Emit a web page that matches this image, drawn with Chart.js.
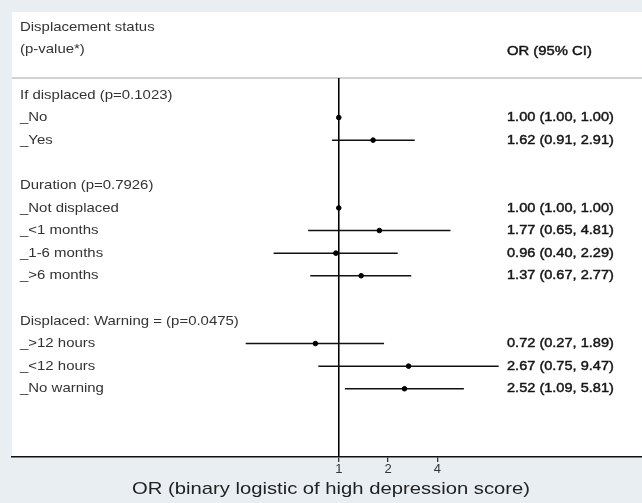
<!DOCTYPE html>
<html>
<head>
<meta charset="utf-8">
<script src="https://cdn.jsdelivr.net/npm/chart.js@4"></script>
<style>
  html, body { margin: 0; padding: 0; background: #e9eef2; }
  #wrap { width: 642px; height: 503px; }
</style>
</head>
<body>
<div id="wrap"><canvas id="forest" width="642" height="503"></canvas></div>
<script>
// rows of the forest plot, top to bottom (null = blank line)
const rowLabels = [
  'If displaced (p=0.1023)', '_No', '_Yes', null,
  'Duration (p=0.7926)', '_Not displaced', '_<1 months', '_1-6 months', '_>6 months', null,
  'Displaced: Warning = (p=0.0475)', '_>12 hours', '_<12 hours', '_No warning'
];
const orValues = [null, 1.00, 1.62, null, null, 1.00, 1.77, 0.96, 1.37, null, null, 0.72, 2.67, 2.52];
const ciLow    = [null, 1.00, 0.91, null, null, 1.00, 0.65, 0.40, 0.67, null, null, 0.27, 0.75, 1.09];
const ciHigh   = [null, 1.00, 2.91, null, null, 1.00, 4.81, 2.29, 2.77, null, null, 1.89, 9.47, 5.81];
const xTicks = [1, 2, 4];
const headLeft = ['Displacement status', '(p-value*)'];
const headRight = 'OR (95% CI)';
const xTitle = 'OR (binary logistic of high depression score)';

const points = [];
orValues.forEach((v, i) => { if (v != null) points.push({ x: v, y: i }); });

const FONT = '"Liberation Sans", Arial, sans-serif';
const STRETCH = 1.15;

function stretchedText(ctx, txt, x, y, sx, heavy) {
  ctx.save();
  ctx.translate(x, y);
  ctx.scale(sx || STRETCH, 1);
  ctx.fillText(txt, 0, 0);
  if (heavy) {
    ctx.lineWidth = 0.45;
    ctx.strokeStyle = ctx.fillStyle;
    ctx.strokeText(txt, 0, 0);
  }
  ctx.restore();
}

const forestPlugin = {
  id: 'forest',
  beforeDraw(chart) {
    const { ctx, chartArea: a } = chart;
    ctx.save();
    ctx.fillStyle = '#e9eef2';
    ctx.fillRect(0, 0, chart.width, chart.height);
    ctx.fillStyle = '#ffffff';
    ctx.fillRect(a.left, a.top, a.right - a.left, a.bottom - a.top);
    ctx.restore();
  },
  beforeDatasetsDraw(chart) {
    const { ctx, chartArea: a } = chart;
    const xs = chart.scales.x, ys = chart.scales.y;
    ctx.save();
    // header separator
    const ySep = ys.getPixelForValue(-0.75);
    ctx.strokeStyle = '#cfd3d6';
    ctx.lineWidth = 2;
    ctx.beginPath();
    ctx.moveTo(a.left, ySep);
    ctx.lineTo(a.right, ySep);
    ctx.stroke();
    // null line at OR = 1
    const x1 = xs.getPixelForValue(1);
    ctx.strokeStyle = '#000';
    ctx.lineWidth = 1.6;
    ctx.beginPath();
    ctx.moveTo(x1, ySep);
    ctx.lineTo(x1, a.bottom);
    ctx.stroke();
    // confidence intervals
    ctx.lineWidth = 1.5;
    ctx.strokeStyle = '#111';
    orValues.forEach((v, i) => {
      if (v == null) return;
      const y = ys.getPixelForValue(i);
      ctx.beginPath();
      ctx.moveTo(xs.getPixelForValue(ciLow[i]), y);
      ctx.lineTo(xs.getPixelForValue(ciHigh[i]), y);
      ctx.stroke();
    });
    // texts
    ctx.textBaseline = 'middle';
    ctx.textAlign = 'left';
    ctx.fillStyle = '#333';
    ctx.font = '13px ' + FONT;
    headLeft.forEach((t, i) => stretchedText(ctx, t, 20, ys.getPixelForValue(-3 + i)));
    rowLabels.forEach((t, i) => {
      if (t) stretchedText(ctx, t, 20, ys.getPixelForValue(i));
    });
    ctx.fillStyle = '#151515';
    ctx.font = '13px ' + FONT;
    stretchedText(ctx, headRight, 507, ys.getPixelForValue(-1.92), 1.14, true);
    orValues.forEach((v, i) => {
      if (v == null) return;
      const s = v.toFixed(2) + ' (' + ciLow[i].toFixed(2) + ', ' + ciHigh[i].toFixed(2) + ')';
      stretchedText(ctx, s, 507, ys.getPixelForValue(i), 1.12, true);
    });
    // axis title
    ctx.fillStyle = '#222';
    ctx.font = '17px ' + FONT;
    ctx.textAlign = 'center';
    stretchedText(ctx, xTitle, 331, 489, 1.19);
    ctx.restore();
  }
};

new Chart(document.getElementById('forest'), {
  type: 'scatter',
  data: {
    datasets: [{
      data: points,
      pointRadius: 2.3,
      pointHoverRadius: 2.3,
      backgroundColor: '#000',
      borderColor: '#000'
    }]
  },
  options: {
    responsive: false,
    animation: false,
    layout: { autoPadding: false, padding: { left: 12, top: 12, right: 0, bottom: 0 } },
    plugins: { legend: { display: false }, tooltip: { enabled: false } },
    scales: {
      x: {
        type: 'logarithmic',
        min: 0.0101,
        max: 71.1,
        afterBuildTicks(scale) { scale.ticks = xTicks.map(v => ({ value: v })); },
        afterFit(scale) { scale.height = 46; },
        ticks: {
          color: '#333',
          font: { size: 13, family: FONT },
          padding: 0,
          autoSkip: false,
          maxRotation: 0,
          callback: v => String(v)
        },
        grid: { drawOnChartArea: false, drawTicks: true, tickLength: 5, color: '#333', lineWidth: 1.3 },
        border: { display: true, color: '#111', width: 1.5 },
        title: { display: false }
      },
      y: {
        type: 'linear',
        reverse: true,
        min: -3.67,
        max: 16.02,
        display: false
      }
    }
  },
  plugins: [forestPlugin]
});
</script>
</body>
</html>
